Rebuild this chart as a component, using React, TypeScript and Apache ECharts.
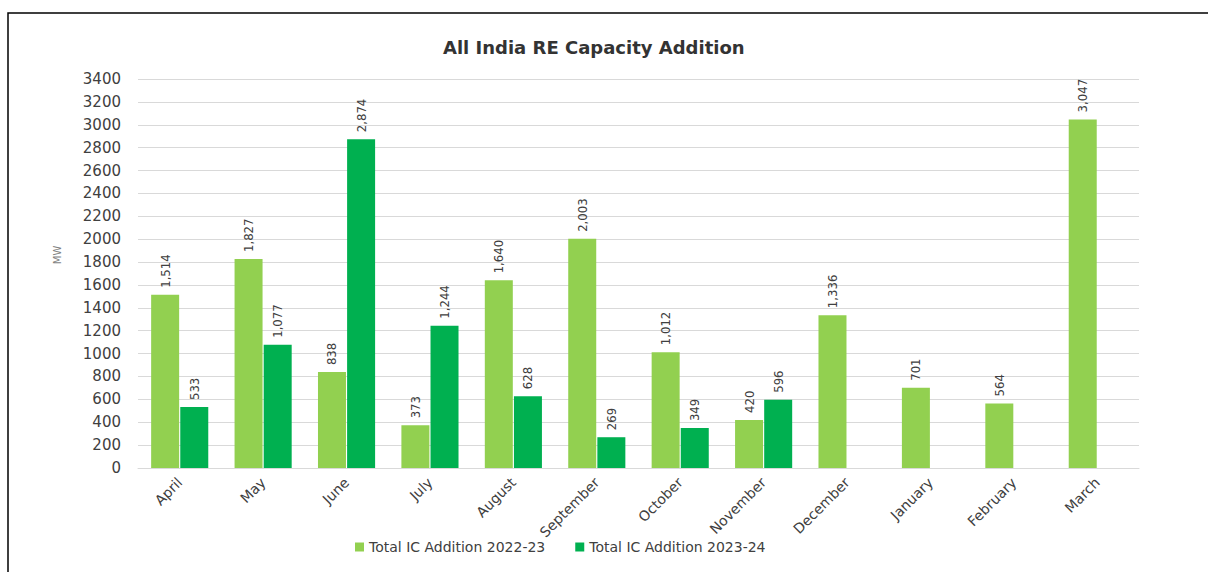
import React, { useEffect, useRef } from "react";
import * as echarts from "echarts";

const months = ["April", "May", "June", "July", "August", "September", "October", "November", "December", "January", "February", "March"];
const ic2022 = [1514, 1827, 838, 373, 1640, 2003, 1012, 420, 1336, 701, 564, 3047];
const ic2023: (number | null)[] = [533, 1077, 2874, 1244, 628, 269, 349, 596, null, null, null, null];
const seriesNames = ["Total IC Addition 2022-23", "Total IC Addition 2023-24"];
const colors = ["#92D050", "#00B050"];
const yAxisName = "MW";

const fmt = (v: number) => v.toLocaleString("en-US");
const FONT = "'DejaVu Sans', sans-serif";

export default function App() {
  const ref = useRef<HTMLDivElement>(null);
  useEffect(() => {
    document.body.style.margin = "0";
    const chart = echarts.init(ref.current!, undefined, { renderer: "svg" });
    const label = {
      show: true,
      position: "top" as const,
      rotate: 90,
      align: "left" as const,
      verticalAlign: "middle" as const,
      distance: 7,
      fontFamily: "'DejaVu Sans Condensed', 'Liberation Sans Narrow', sans-serif",
      fontSize: 13,
      color: "#404040",
      formatter: (p: any) => fmt(p.value),
    };
    chart.setOption({
      animation: false,
      backgroundColor: "#ffffff",
      textStyle: { fontFamily: FONT },
      title: {
        text: "All India RE Capacity Addition",
        left: 438,
        top: 33,
        textStyle: { fontSize: 18, fontWeight: "bold", color: "#333333", fontFamily: FONT },
      },
      graphic: [
        {
          type: "rect",
          shape: { x: 8, y: 13, width: 1400, height: 800 },
          style: { fill: "none", stroke: "#000", lineWidth: 1.5 },
          silent: true,
        },
        {
          type: "text",
          x: 57,
          y: 255,
          rotation: Math.PI / 2,
          style: { text: yAxisName, fontSize: 10, fill: "#7f7f7f", fontFamily: FONT, align: "center", verticalAlign: "middle" },
          silent: true,
        },
      ],
      legend: {
        bottom: 13,
        left: 350,
        itemWidth: 9,
        itemHeight: 9,
        itemGap: 30,
        icon: "rect",
        textStyle: { fontSize: 14, color: "#404040", fontFamily: FONT },
        data: seriesNames,
      },
      grid: { left: 138, right: 69, top: 79, bottom: 104 },
      xAxis: {
        type: "category",
        data: months,
        axisLine: { lineStyle: { color: "#d9d9d9" } },
        axisTick: { show: false },
        axisLabel: { rotate: 45, fontSize: 14, color: "#404040", margin: 12, interval: 0, fontFamily: FONT },
      },
      yAxis: {
        type: "value",
        min: 0,
        max: 3400,
        interval: 200,
        axisLine: { show: false },
        axisTick: { show: false },
        splitLine: { lineStyle: { color: "#d9d9d9" } },
        axisLabel: { fontSize: 15, color: "#404040", margin: 17, fontFamily: FONT, formatter: (v: number) => String(v) },
      },
      series: [
        {
          name: seriesNames[0],
          type: "bar",
          data: ic2022,
          barWidth: 28,
          barGap: "4%",
          itemStyle: { color: colors[0] },
          label,
        },
        {
          name: seriesNames[1],
          type: "bar",
          data: ic2023,
          barWidth: 28,
          itemStyle: { color: colors[1] },
          label,
        },
      ],
    });
    return () => chart.dispose();
  }, []);
  return <div ref={ref} style={{ width: 1208, height: 572 }} />;
}
